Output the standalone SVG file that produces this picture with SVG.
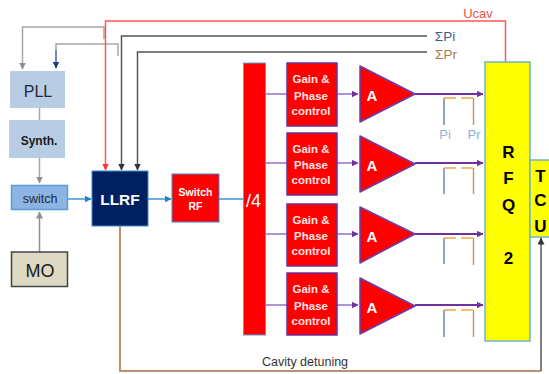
<svg xmlns="http://www.w3.org/2000/svg" width="549" height="374" viewBox="0 0 549 374">
<style>
text{font-family:"Liberation Sans",Arial,sans-serif;text-anchor:middle}
.w{fill:#fff;font-weight:bold}
.gp{fill:#f00;stroke:#6b2fa0;stroke-width:1.500}
.gt{fill:#fbe3e3;font-size:11.500px;font-weight:bold}
.amp{fill:#f00;stroke:#6b3fb0;stroke-width:1.500;stroke-linejoin:round}
.l{fill:none;stroke-width:1.500}
.b{font-size:17px;font-weight:bold;fill:#000}
</style>
<defs>
<marker id="ag" markerUnits="userSpaceOnUse" markerWidth="7" markerHeight="7" refX="6.500" refY="3.500" orient="auto"><path d="M0 0L7 3.500L0 7Z" fill="#8f8f8f"/></marker>
<marker id="an" markerUnits="userSpaceOnUse" markerWidth="7" markerHeight="7" refX="6.500" refY="3.500" orient="auto"><path d="M0 0L7 3.500L0 7Z" fill="#1f3a7a"/></marker>
<marker id="ar" markerUnits="userSpaceOnUse" markerWidth="7" markerHeight="7" refX="6.500" refY="3.500" orient="auto"><path d="M0 0L7 3.500L0 7Z" fill="#f33"/></marker>
<marker id="ak" markerUnits="userSpaceOnUse" markerWidth="7" markerHeight="7" refX="6.500" refY="3.500" orient="auto"><path d="M0 0L7 3.500L0 7Z" fill="#333"/></marker>
<marker id="ab" markerUnits="userSpaceOnUse" markerWidth="7" markerHeight="7" refX="6.500" refY="3.500" orient="auto"><path d="M0 0L7 3.500L0 7Z" fill="#1b82c9"/></marker>
<marker id="ap" markerUnits="userSpaceOnUse" markerWidth="7" markerHeight="7" refX="6.500" refY="3.500" orient="auto"><path d="M0 0L7 3.500L0 7Z" fill="#7030a0"/></marker>
</defs>
<g id="connectors">
<path class="l" d="M104 39V27H22.500V69" stroke="#a6a6a6" marker-end="url(#ag)"/>
<path class="l" d="M118 56V44H56V50" stroke="#a6a6a6"/>
<path class="l" d="M56 50V68" stroke="#3f5f9f" marker-end="url(#an)"/>
<path class="l" d="M39.500 108V120" stroke="#a6a6a6"/>
<path class="l" d="M39.500 158V183" stroke="#a6a6a6" marker-end="url(#ag)"/>
<path class="l" d="M39.500 252V212" stroke="#8f8f8f" marker-end="url(#ag)"/>
<path class="l" d="M68 199H91" stroke="#3b96d8" marker-end="url(#ab)"/>
<path class="l" d="M148 199H171" stroke="#3b96d8" marker-end="url(#ab)"/>
<path class="l" d="M219 199H243" stroke="#3b96d8"/>
<path class="l" d="M505.500 62V21H105.500V170" stroke="#f55" marker-end="url(#ar)"/>
<path class="l" d="M427 36H121.500V170" stroke="#555" marker-end="url(#ak)"/>
<path class="l" d="M427 52H137.500V170" stroke="#555" marker-end="url(#ak)"/>
<path d="M120 226V371H541" fill="none" stroke="#c0906a" stroke-width="2"/>
<path class="l" d="M541 371V238" stroke="#555" marker-end="url(#ak)"/>
<g stroke="#9a6fc8" class="l">
<path d="M266 94H287M266 163H287M266 234H287M266 305H287"/>
<path d="M337 94H358" marker-end="url(#ap)"/>
<path d="M337 163H358" marker-end="url(#ap)"/>
<path d="M337 234H358" marker-end="url(#ap)"/>
<path d="M337 305H358" marker-end="url(#ap)"/>
</g>
<g stroke="#7030a0" fill="none" stroke-width="2">
<path d="M415 94H483" marker-end="url(#ap)"/>
<path d="M415 163H483" marker-end="url(#ap)"/>
<path d="M415 234H483" marker-end="url(#ap)"/>
<path d="M415 305H483" marker-end="url(#ap)"/>
</g>
<g fill="none" stroke-width="1.500">
<path d="M444 125V98" stroke="#6f86b8"/><path d="M444 98H456M461 98H473" stroke="#f5a445"/><path d="M473.500 98V125" stroke="#c49a6c"/>
<path d="M444 194V168" stroke="#6f86b8"/><path d="M444 168H456M461 168H473" stroke="#f5a445"/><path d="M473.500 168V194" stroke="#c49a6c"/>
<path d="M444 264V238" stroke="#6f86b8"/><path d="M444 238H456M461 238H473" stroke="#f5a445"/><path d="M473.500 238V265" stroke="#c49a6c"/>
<path d="M444 337V310" stroke="#6f86b8"/><path d="M444 310H456M461 310H473" stroke="#f5a445"/><path d="M473.500 310V337" stroke="#c49a6c"/>
</g>
</g>
<g id="pll"><rect x="10" y="71" width="55" height="37" fill="#b8cce4"/><text x="38" y="97" font-size="16" fill="#1f2a3a">PLL</text></g>
<g id="synth"><rect x="9" y="120" width="56" height="38" fill="#b8cce4"/><text x="39" y="145" font-size="12" font-weight="bold" fill="#1a1a1a">Synth.</text></g>
<g id="switch"><rect x="11.500" y="185.500" width="56" height="24" fill="#8eb4e3" stroke="#5b9bd5" stroke-width="1.500"/><text x="40" y="203" font-size="12.500" fill="#1f2a3a">switch</text></g>
<g id="mo"><rect x="11.500" y="252" width="56" height="34.500" fill="#ddd9c3" stroke="#444" stroke-width="1.500"/><text x="40" y="277" font-size="18" fill="#1a1a1a">MO</text></g>
<g id="llrf"><rect x="92" y="171" width="56" height="55" fill="#002060" stroke="#3b8ed0" stroke-width="1"/><text x="120" y="205" font-size="15.500" class="w">LLRF</text></g>
<g id="switch-rf"><rect x="172" y="174" width="47" height="48" fill="#f00" stroke="#3b8ed0" stroke-width="1"/><text x="195.500" y="196" font-size="10.500" class="w">Switch</text><text x="195.500" y="210" font-size="10.500" class="w">RF</text></g>
<g id="div4"><rect x="243.500" y="63" width="22" height="272" fill="#f00" stroke="#4ea5d9" stroke-width="1"/><text x="253.500" y="207" font-size="18" fill="#fff">/4</text></g>
<g id="gain1"><rect class="gp" x="287" y="63" width="50" height="63"/><text class="gt" x="311" y="83">Gain &amp;</text><text class="gt" x="311" y="100">Phase</text><text class="gt" x="311" y="115">control</text></g>
<g id="gain2"><rect class="gp" x="287" y="133" width="50" height="62"/><text class="gt" x="311" y="153">Gain &amp;</text><text class="gt" x="311" y="169">Phase</text><text class="gt" x="311" y="184">control</text></g>
<g id="gain3"><rect class="gp" x="287" y="204" width="50" height="62"/><text class="gt" x="311" y="224">Gain &amp;</text><text class="gt" x="311" y="240">Phase</text><text class="gt" x="311" y="255">control</text></g>
<g id="gain4"><rect class="gp" x="287" y="273" width="50" height="62"/><text class="gt" x="311" y="293">Gain &amp;</text><text class="gt" x="311" y="310">Phase</text><text class="gt" x="311" y="325">control</text></g>
<g id="amp1"><path class="amp" d="M360 66L415 94L360 122Z"/><text x="372" y="101" font-size="15" class="w">A</text></g>
<g id="amp2"><path class="amp" d="M360 136L415 164L360 192Z"/><text x="372" y="171" font-size="15" class="w">A</text></g>
<g id="amp3"><path class="amp" d="M360 207L415 234L360 263Z"/><text x="372" y="242" font-size="15" class="w">A</text></g>
<g id="amp4"><path class="amp" d="M360 278L415 306L360 334Z"/><text x="372" y="313" font-size="15" class="w">A</text></g>
<g id="rfq"><rect x="485" y="62" width="45" height="279" fill="#ff0" stroke="#6fb0d8" stroke-width="1.500"/>
<text class="b" x="508.500" y="158">R</text><text class="b" x="508.500" y="184">F</text><text class="b" x="508.500" y="211">Q</text><text class="b" x="508.500" y="264">2</text></g>
<g id="tcu"><rect x="530" y="160" width="20" height="77" fill="#ff0" stroke="#6fb0d8" stroke-width="1.500"/>
<text class="b" x="540.500" y="182">T</text><text class="b" x="540.500" y="206">C</text><text class="b" x="540.500" y="232">U</text></g>
<g id="labels">
<text x="478" y="18" font-size="13" fill="#f05050">Ucav</text>
<text x="445" y="41" font-size="13.500" fill="#3f5a8a">ΣPi</text>
<text x="446" y="59" font-size="13.500" fill="#a97b55">ΣPr</text>
<text x="445" y="139" font-size="13" fill="#8fb0dc">Pi</text>
<text x="474" y="139" font-size="13" fill="#8fb0dc">Pr</text>
<text x="305" y="366" font-size="12.500" fill="#333">Cavity detuning</text>
</g>
</svg>
